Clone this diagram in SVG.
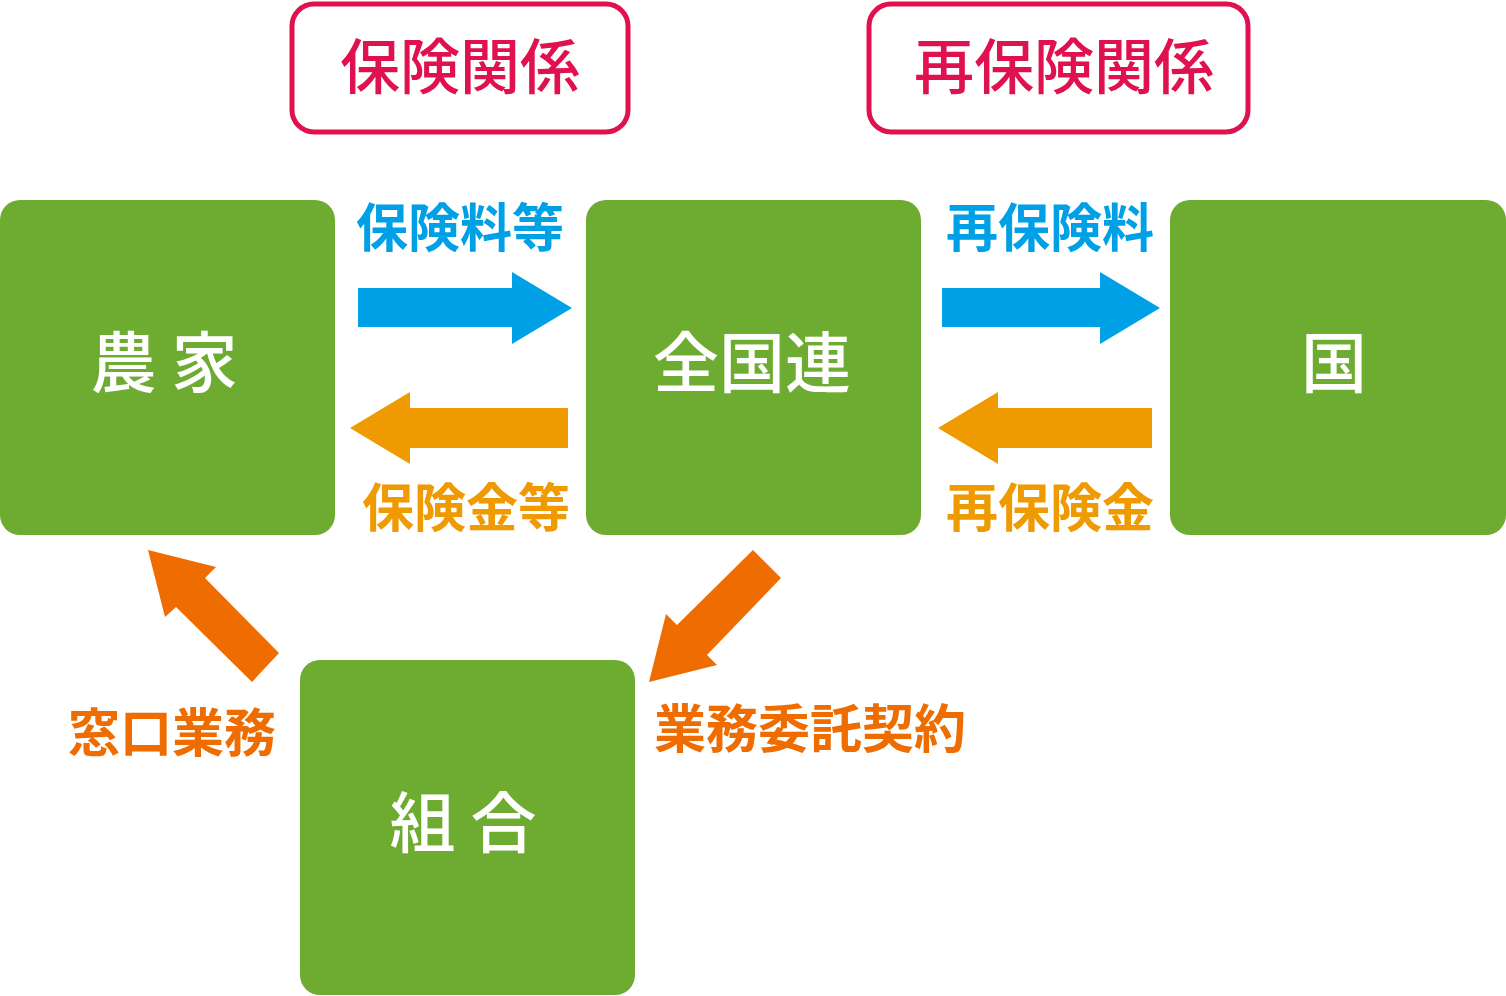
<svg xmlns="http://www.w3.org/2000/svg" width="1506" height="996" viewBox="0 0 1506 996">
<style>
text{font-family:"Noto Sans CJK JP","Noto Sans CJK SC",sans-serif;}
.node{fill:#6EAB31;}
.nt{fill:#fff;font-size:66px;font-weight:500;text-anchor:middle;}
.frame{fill:#fff;stroke:#E0114F;stroke-width:5;}
.ft{fill:#E0114F;font-size:60px;font-weight:500;text-anchor:middle;}
.blue{fill:#00A0E6;}
.gold{fill:#EE9A00;}
.org{fill:#EE6C00;}
.lbl{font-size:52px;font-weight:700;text-anchor:middle;}
</style>
<rect width="1506" height="996" fill="#fff"/>
<g id="title-hoken">
<rect class="frame" x="292" y="4" width="336" height="128" rx="22"/>
<text class="ft" x="460" y="89">保険関係</text>
</g>
<g id="title-saihoken">
<rect class="frame" x="869" y="4" width="379" height="128" rx="22"/>
<text class="ft" x="1064" y="89">再保険関係</text>
</g>
<g id="node-nouka">
<rect class="node" x="0" y="200" width="335" height="335" rx="20"/>
<text class="nt" x="164" y="387">農 家</text>
</g>
<g id="node-zenkokuren">
<rect class="node" x="586" y="200" width="335" height="335" rx="20"/>
<text class="nt" x="752" y="387">全国連</text>
</g>
<g id="node-kuni">
<rect class="node" x="1170" y="200" width="336" height="335" rx="20"/>
<text class="nt" x="1334" y="387">国</text>
</g>
<g id="node-kumiai">
<rect class="node" x="300" y="660" width="335" height="335" rx="20"/>
<text class="nt" x="463" y="847">組 合</text>
</g>
<g id="connectors">
<polygon class="blue" points="358,288 512,288 512,272 572,308 512,344 512,327 358,327"/>
<polygon class="gold" points="568,408 410,408 410,392 350,428 410,464 410,448 568,448"/>
<polygon class="blue" points="942,288 1100,288 1100,272 1160,308 1100,344 1100,327 942,327"/>
<polygon class="gold" points="1152,408 998,408 998,392 938,428 998,464 998,448 1152,448"/>
<polygon class="org" points="279,653 205,578 216,567 148,550 165,617 176,607 252,682"/>
<polygon class="org" points="753,550 677,625 666,614 649,682 717,665 707,655 781,578"/>
<text class="lbl blue" x="460" y="247">保険料等</text>
<text class="lbl gold" x="466" y="527">保険金等</text>
<text class="lbl blue" x="1050" y="247">再保険料</text>
<text class="lbl gold" x="1050" y="527">再保険金</text>
<text class="lbl org" x="172" y="752">窓口業務</text>
<text class="lbl org" x="810" y="748">業務委託契約</text>
</g>
</svg>
